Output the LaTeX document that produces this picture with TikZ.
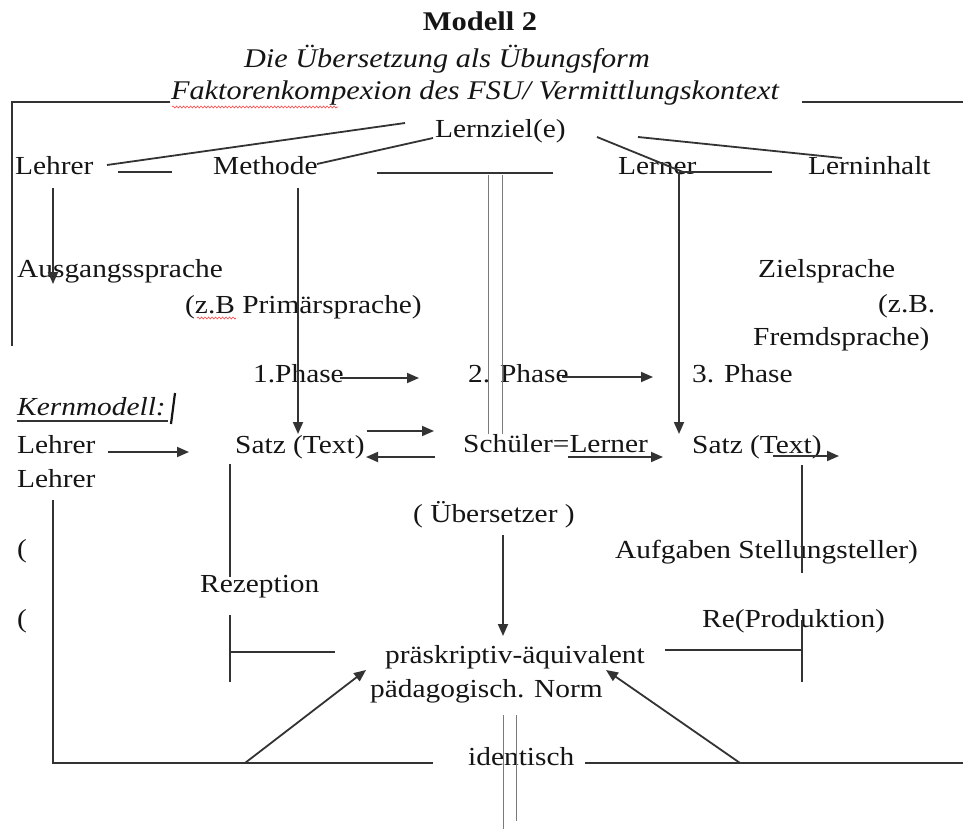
\documentclass[tikz,border=0pt]{standalone}
\usepackage{fontspec}
\setmainfont{Liberation Serif}[FakeStretch=1.13]
\newfontfamily\titlefont{Liberation Serif}[FakeStretch=1.12]
\usetikzlibrary{arrows.meta,decorations.pathmorphing}
\definecolor{ink}{HTML}{151515}
\definecolor{rule}{HTML}{333333}
\definecolor{hair}{HTML}{7A7A7A}

\begin{document}
\begin{tikzpicture}[x=1pt,y=-1pt,
  txt/.style={anchor=base west,inner sep=0pt,text=ink,font=\fontsize{26}{30}\selectfont},
  ttl/.style={anchor=base,inner sep=0pt,text=ink,font=\titlefont\itshape\fontsize{27}{30}\selectfont},
  ln/.style={draw=rule,line width=1.8pt},
  arr/.style={ln,-{Triangle[length=12pt,width=10pt]}},
  hairline/.style={draw=hair,line width=1pt},
  squiggle/.style={draw=red!75,line width=0.6pt,decorate,
    decoration={snake,amplitude=1pt,segment length=3.5pt}}]

\fill[white] (0,0) rectangle (963,829);
\useasboundingbox (0,0) rectangle (963,829);

% ---------- headings ----------
\node[anchor=base,inner sep=0pt,text=ink,font=\bfseries\fontsize{27}{30}\selectfont] (modell) at (480,31) {Modell 2};
\node[ttl] (sub1) at (447,68) {Die Übersetzung als Übungsform};
\node[ttl] (sub2) at (475,100) {Faktorenkompexion des FSU/ Vermittlungskontext};

% ---------- factors ----------
\node[txt] (lernziel) at (435,138) {Lernziel(e)};
\node[txt] (lehrer1) at (15,175) {Lehrer};
\node[txt] (methode) at (213,175) {Methode};
\node[txt] (lerner) at (618,175) {Lerner};
\node[txt] (inhalt) at (808,175) {Lerninhalt};

% ---------- languages ----------
\node[txt] (ausgang) at (17,277) {Ausgangssprache};
\node[txt] (primaer) at (185,313) {(z.B Primärsprache)};
\node[txt] (ziel) at (758,277) {Zielsprache};
\node[txt] (zb) at (878,312) {(z.B.};
\node[txt] (fremd) at (753,345) {Fremdsprache)};

% ---------- phases ----------
\node[txt] (ph1) at (253,382) {1.Phase};
\node[txt] (ph2) at (468,382) {2. Phase};
\node[txt] (ph3) at (692,382) {3. Phase};

% ---------- core model ----------
\node[txt,font=\itshape\fontsize{26}{30}\selectfont] (kern) at (17,415) {Kernmodell:};
\node[txt] (lehrer2) at (17,453) {Lehrer};
\node[txt] (satz1) at (235,453) {Satz (Text)};
\node[txt] (schueler) at (463,452) {Schüler=Lerner};
\node[txt] (satz2) at (692,453) {Satz (Text)};
\node[txt] (lehrer3) at (17,487) {Lehrer};
\node[txt] (uebers) at (413,522) {( Übersetzer )};
\node[txt] (par1) at (17,557) {(};
\node[txt] (aufgaben) at (615,558) {Aufgaben Stellungsteller)};
\node[txt] (rezeption) at (200,592) {Rezeption};
\node[txt] (par2) at (17,627) {(};
\node[txt] (reprod) at (702,627) {Re(Produktion)};
\node[txt] (praesk) at (385,663) {präskriptiv-äquivalent};
\node[txt] (norm) at (370,697) {pädagogisch. Norm};
\node[txt] (ident) at (468,765) {identisch};

% ---------- spell-check marks ----------
\coordinate (sqA) at (172,107); \coordinate (sqB) at (338,107);
\coordinate (sqC) at (197,318); \coordinate (sqD) at (236,318);
\draw[squiggle] (sqA) -- (sqB);
\draw[squiggle] (sqC) -- (sqD);

% ---------- frame of the context ----------
\coordinate (fA) at (170,102); \coordinate (fB) at (12,102); \coordinate (fC) at (12,346);
\coordinate (fD) at (802,102); \coordinate (fE) at (963,102);
\draw[ln] (fA) -- (fB) -- (fC);
\draw[ln] (fD) -- (fE);

% ---------- lines to the learning goal ----------
\coordinate (g1) at (107,165); \coordinate (g1e) at (405,123);
\coordinate (g2) at (317,164); \coordinate (g2e) at (433,138);
\coordinate (g3) at (597,137); \coordinate (g3e) at (683,172);
\coordinate (g4) at (638,137); \coordinate (g4e) at (842,158);
\draw[ln] (g1) -- (g1e);
\draw[ln] (g2) -- (g2e);
\draw[ln] (g3) -- (g3e);
\draw[ln] (g4) -- (g4e);
\coordinate (d1) at (118,172); \coordinate (d1e) at (172,172);
\coordinate (d2) at (377,173); \coordinate (d2e) at (553,173);
\coordinate (d3) at (679,172); \coordinate (d3e) at (772,172);
\draw[ln] (d1) -- (d1e);
\draw[ln] (d2) -- (d2e);
\draw[ln] (d3) -- (d3e);

% ---------- downward arrows ----------
\coordinate (a1) at (53,188); \coordinate (a1e) at (53,284);
\coordinate (a2) at (298,188); \coordinate (a2e) at (298,434);
\coordinate (a3e) at (679,434);
\draw[arr] (a1) -- (a1e);
\draw[arr] (a2) -- (a2e);
\draw[arr] (d3) -- (a3e);

% ---------- double separator ----------
\coordinate (s1) at (488,175); \coordinate (s1e) at (488,434);
\coordinate (s2) at (502,175); \coordinate (s2e) at (502,434);
\draw[hairline] (s1) -- (s1e);
\draw[hairline] (s2) -- (s2e);
\coordinate (s3) at (503,715); \coordinate (s3e) at (503,829);
\coordinate (s4) at (516,715); \coordinate (s4e) at (516,821);
\draw[hairline] (s3) -- (s3e);
\draw[hairline] (s4) -- (s4e);

% ---------- phase arrows ----------
\coordinate (p1) at (340,378); \coordinate (p1e) at (419,378);
\coordinate (p2) at (562,377); \coordinate (p2e) at (653,377);
\draw[arr] (p1) -- (p1e);
\draw[arr] (p2) -- (p2e);

% ---------- core model arrows ----------
\coordinate (ul) at (17,421); \coordinate (ule) at (168,421);
\draw[ln] (ul) -- (ule);
\coordinate (cur) at (175,393); \coordinate (cure) at (171,424);
\draw[draw=ink,line width=2.2pt] (cur) -- (cure);
\coordinate (k1) at (108,452); \coordinate (k1e) at (189,452);
\coordinate (k2) at (367,431); \coordinate (k2e) at (434,431);
\coordinate (k3) at (435,457); \coordinate (k3e) at (366,457);
\coordinate (k4) at (568,457); \coordinate (k4e) at (663,457);
\coordinate (k5) at (773,456); \coordinate (k5e) at (839,456);
\draw[arr] (k1) -- (k1e);
\draw[arr] (k2) -- (k2e);
\draw[arr] (k3) -- (k3e);
\draw[arr] (k4) -- (k4e);
\draw[arr] (k5) -- (k5e);

% ---------- reception side ----------
\coordinate (r1) at (230,464); \coordinate (r1e) at (230,577);
\coordinate (r2) at (230,615); \coordinate (r2e) at (230,682);
\coordinate (r3) at (230,652); \coordinate (r3e) at (335,652);
\draw[ln] (r1) -- (r1e);
\draw[ln] (r2) -- (r2e);
\draw[ln] (r3) -- (r3e);

% ---------- production side ----------
\coordinate (q1) at (802,465); \coordinate (q1e) at (802,573);
\coordinate (q2) at (802,620); \coordinate (q2e) at (802,682);
\coordinate (q3) at (665,650); \coordinate (q3e) at (802,650);
\draw[ln] (q1) -- (q1e);
\draw[ln] (q2) -- (q2e);
\draw[ln] (q3) -- (q3e);

% ---------- towards the norm ----------
\coordinate (u1) at (503,535); \coordinate (u1e) at (503,636);
\draw[arr] (u1) -- (u1e);
\coordinate (b1) at (53,500); \coordinate (b2) at (53,763); \coordinate (b3) at (433,763);
\draw[ln] (b1) -- (b2) -- (b3);
\coordinate (b4) at (585,763); \coordinate (b5) at (963,763);
\draw[ln] (b4) -- (b5);
\coordinate (n1) at (245,763); \coordinate (n1e) at (366,670);
\coordinate (n2) at (740,763); \coordinate (n2e) at (606,670);
\draw[arr] (n1) -- (n1e);
\draw[arr] (n2) -- (n2e);
\end{tikzpicture}
\end{document}
